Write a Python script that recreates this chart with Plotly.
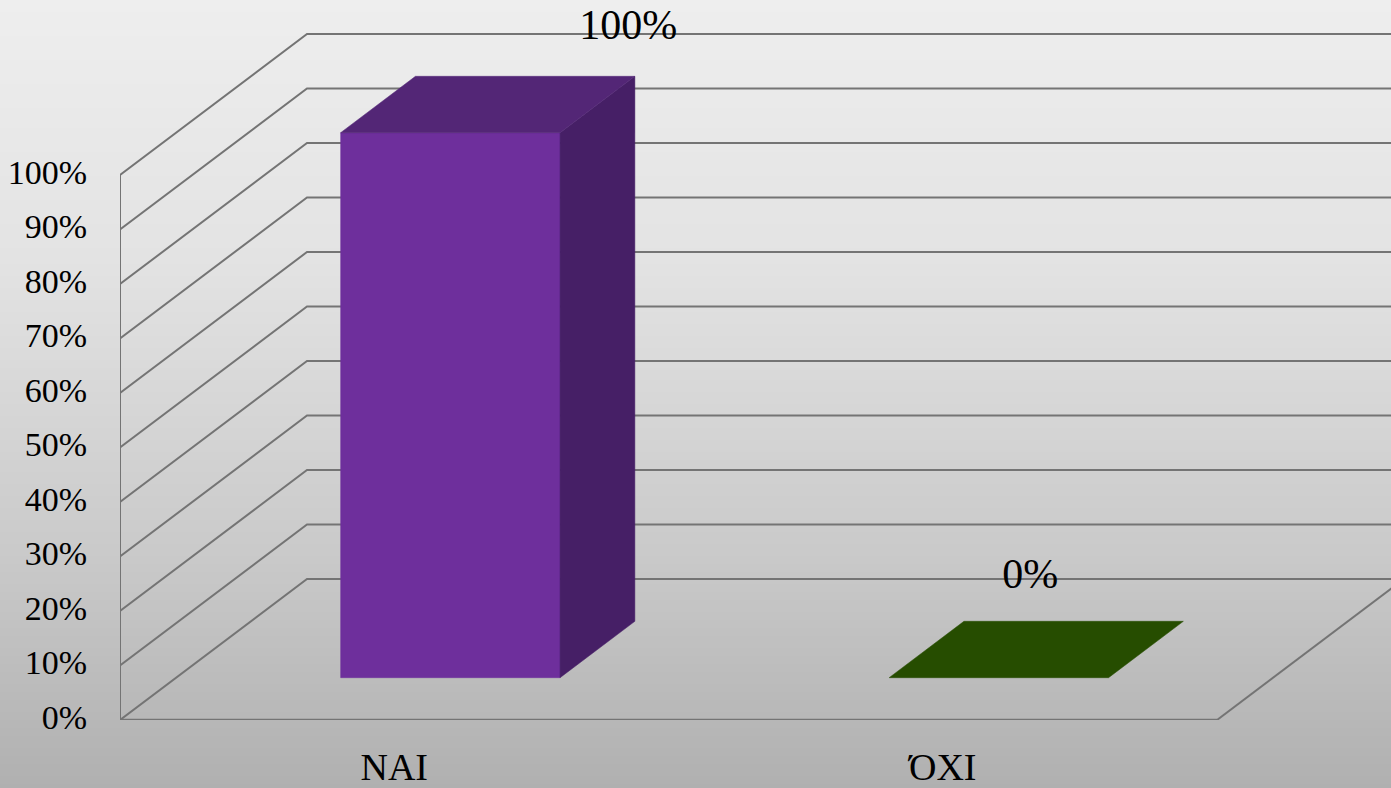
import numpy as np
import plotly.graph_objects as go

# ---- data ----
categories = ["NAI", "ΌΧΙ"]
values = [100, 0]
value_labels = ["100%", "0%"]
y_ticks = [0, 10, 20, 30, 40, 50, 60, 70, 80, 90, 100]
y_tick_labels = ["0%", "10%", "20%", "30%", "40%", "50%", "60%", "70%", "80%", "90%", "100%"]

# ---- oblique projection of the 3-D chart box, in axis units ----
W, H = 1391, 788
LEFT, BASE = 120, 720            # pixel position of the axes origin
CAT_PX, PCT_PX = 548.5, 5.45     # pixels per category, pixels per percentage point
DEPTH_X, DEPTH_Y = 187 / CAT_PX, 141 / PCT_PX
BAR_W = 0.4
BAR_DEPTH = (0.3, 0.7)
X_MAX = (W - LEFT) / CAT_PX
Y_MAX = BASE / PCT_PX


def proj(cat, val, depth):
    return cat + depth * DEPTH_X, val + depth * DEPTH_Y


def poly(points):
    xs, ys = zip(*[proj(*p) for p in points])
    return list(xs) + [xs[0]], list(ys) + [ys[0]]


fig = go.Figure()


def line(xs, ys, width, color="#747474"):
    fig.add_trace(go.Scatter(x=xs, y=ys, mode="lines", line=dict(color=color, width=width),
                             hoverinfo="skip", showlegend=False))


def face(points, color):
    xs, ys = poly(points)
    fig.add_trace(go.Scatter(x=xs, y=ys, mode="lines", fill="toself", fillcolor=color,
                             line=dict(color=color, width=0.5), hoverinfo="skip", showlegend=False))


# grid lines: left wall + back wall
for t in y_ticks:
    a = proj(0, t, 0)
    b = proj(0, t, 1)
    c = proj(X_MAX + 1, t, 1)
    line([a[0], b[0], c[0]], [a[1], b[1], c[1]], 2)

# value axis, floor front edge, floor right edge
line([0, 0], [0, 100], 2)
line([0, 2], [0, 0], 2.5)
e0, e1 = proj(2, 0, 0), proj(2, 0, 1)
line([e0[0], e1[0]], [e0[1], e1[1]], 2)

# bars
d0, d1 = BAR_DEPTH
palette = [("#6e2f9c", "#532676", "#461f66"), ("#4f8f00", "#264d00", "#264d00")]
for i, v in enumerate(values):
    x0, x1 = i + 0.5 - BAR_W / 2, i + 0.5 + BAR_W / 2
    front, top, side = palette[i]
    if v > 0:
        face([(x0, 0, d0), (x1, 0, d0), (x1, v, d0), (x0, v, d0)], front)
        face([(x1, 0, d0), (x1, 0, d1), (x1, v, d1), (x1, v, d0)], side)
    face([(x0, v, d0), (x1, v, d0), (x1, v, d1), (x0, v, d1)], top)

# value labels, placed relative to the centre of each bar's top face
label_offsets = [(0.256, 13.9), (-0.011, 13.25)]
lx, ly = [], []
for i, v in enumerate(values):
    cx, cy = proj(i + 0.5, v, 0.5)
    lx.append(cx + label_offsets[i][0])
    ly.append(cy + label_offsets[i][1])
fig.add_trace(go.Scatter(x=lx, y=ly, mode="text", text=value_labels, textposition="middle center",
                         textfont=dict(family="Liberation Serif", size=42, color="#000000"),
                         hoverinfo="skip", showlegend=False))

# vertical background gradient (strips in paper coordinates)
stops_y = [0, 260, 560, 788]
stops_v = [238, 227, 201, 176]
shapes = []
for py in range(0, H, 4):
    g = int(round(np.interp(py + 2, stops_y, stops_v)))
    shapes.append(dict(type="rect", xref="paper", yref="paper", layer="below",
                       x0=-LEFT / (W - LEFT), x1=1,
                       y0=(BASE - py) / BASE, y1=(BASE - py - 5) / BASE,
                       fillcolor=f"rgb({g},{g},{g})", line=dict(width=0)))

fig.update_layout(
    width=W, height=H, autosize=False,
    margin=dict(l=LEFT, r=0, t=0, b=H - BASE, pad=0),
    paper_bgcolor="#cccccc", plot_bgcolor="rgba(0,0,0,0)",
    showlegend=False, shapes=shapes,
    xaxis=dict(range=[0, X_MAX], tickmode="array", tickvals=[i + 0.5 for i in range(len(categories))],
               ticktext=categories, showgrid=False, zeroline=False, showline=False,
               ticks="outside", ticklen=13, tickcolor="rgba(0,0,0,0)",
               tickfont=dict(family="Liberation Serif", size=38, color="#000000"), automargin=False),
    yaxis=dict(range=[0, Y_MAX], tickmode="array", tickvals=y_ticks, ticktext=y_tick_labels,
               showgrid=False, zeroline=False, showline=False,
               ticks="outside", ticklen=25, tickcolor="rgba(0,0,0,0)", ticklabelshift=-3,
               tickfont=dict(family="Liberation Serif", size=34, color="#000000"), automargin=False),
)
fig.write_html("out.html", config=dict(displayModeBar=False),
               post_script="document.body.style.margin='0';document.documentElement.style.overflow='hidden';")
